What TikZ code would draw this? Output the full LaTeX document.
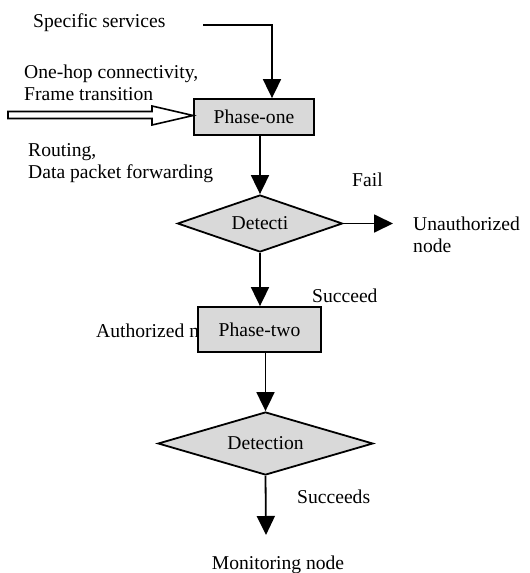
\documentclass[tikz,border=0pt]{standalone}
\usepackage{fontspec}
\setmainfont{Liberation Serif}
\usetikzlibrary{arrows.meta,shapes.geometric}
\definecolor{boxgray}{RGB}{217,217,217}
\tikzset{
  lbl/.style={font=\fontsize{19.6}{23}\selectfont, inner sep=0pt, anchor=base west},
  stepbox/.style={draw, line width=1.8pt, fill=boxgray, rectangle, inner sep=0pt, font=\fontsize{19.6}{23}\selectfont},
  decide/.style={draw, line width=1.8pt, fill=boxgray, diamond, inner sep=0pt, font=\fontsize{19.6}{23}\selectfont},
  flow/.style={line width=1.8pt, -{Triangle[width=18pt,length=19pt]}},
}
\begin{document}
\begin{tikzpicture}[x=1pt,y=-1pt]
\useasboundingbox (0,0) rectangle (530,573);
% labels
\node[lbl] (ss) at (33,27) {Specific services};
\node[lbl] (oh) at (24,78) {One-hop connectivity,};
\node[lbl] (ft) at (24,100) {Frame transition};
\node[lbl] (rt) at (28,156) {Routing,};
\node[lbl] (dp) at (28,178) {Data packet forwarding};
\node[lbl] (fail) at (352,186) {Fail};
\node[lbl] (un) at (413,230) {Unauthorized};
\node[lbl] (unn) at (413,252) {node};
\node[lbl] (suc) at (312,302) {Succeed};
\node[lbl] (auth) at (96,337) {Authorized n};
\node[lbl] (sucs) at (297,503) {Succeeds};
\node[lbl,anchor=base] (mon) at (278,569) {Monitoring node};
% shapes
\node[stepbox, minimum width=120pt, minimum height=36pt] (p1) at (254,117) {Phase-one};
\node[decide, minimum width=165pt, minimum height=57pt, aspect=2.9] (d1) at (260,223.5) {Detecti};
\node[stepbox, minimum width=123pt, minimum height=45pt] (p2) at (259.5,329.5) {Phase-two};
\node[decide, minimum width=215pt, minimum height=63pt, aspect=3.4] (d2) at (265.5,443.5) {Detection};
% free ends
\coordinate (ssstart) at (203,25);
\coordinate (unend) at (393,223.5);
\coordinate (monend) at (266,535);
\coordinate (hollowstart) at (8,115);
% connectors
\draw[flow] (ssstart) -| ([xshift=18pt]p1.north);
\draw[flow] ([xshift=6pt]p1.south) -- (d1.north);
\draw[flow] (d1.east) -- (unend);
\draw[flow] (d1.south) -- (d1.south |- p2.north);
\draw[flow] (p2.south -| d2.north) -- (d2.north);
\draw[flow] (d2.south) -- (monend);
% hollow arrow
\draw[line width=1.6pt, fill=white, line join=miter]
  (hollowstart) ++(0,-3.5) -- (152,111.5) -- (152,106) -- (p1.west |- 0,115.5) -- (152,125) -- (152,118.5) -- (8,118.5) -- cycle;
\end{tikzpicture}
\end{document}
